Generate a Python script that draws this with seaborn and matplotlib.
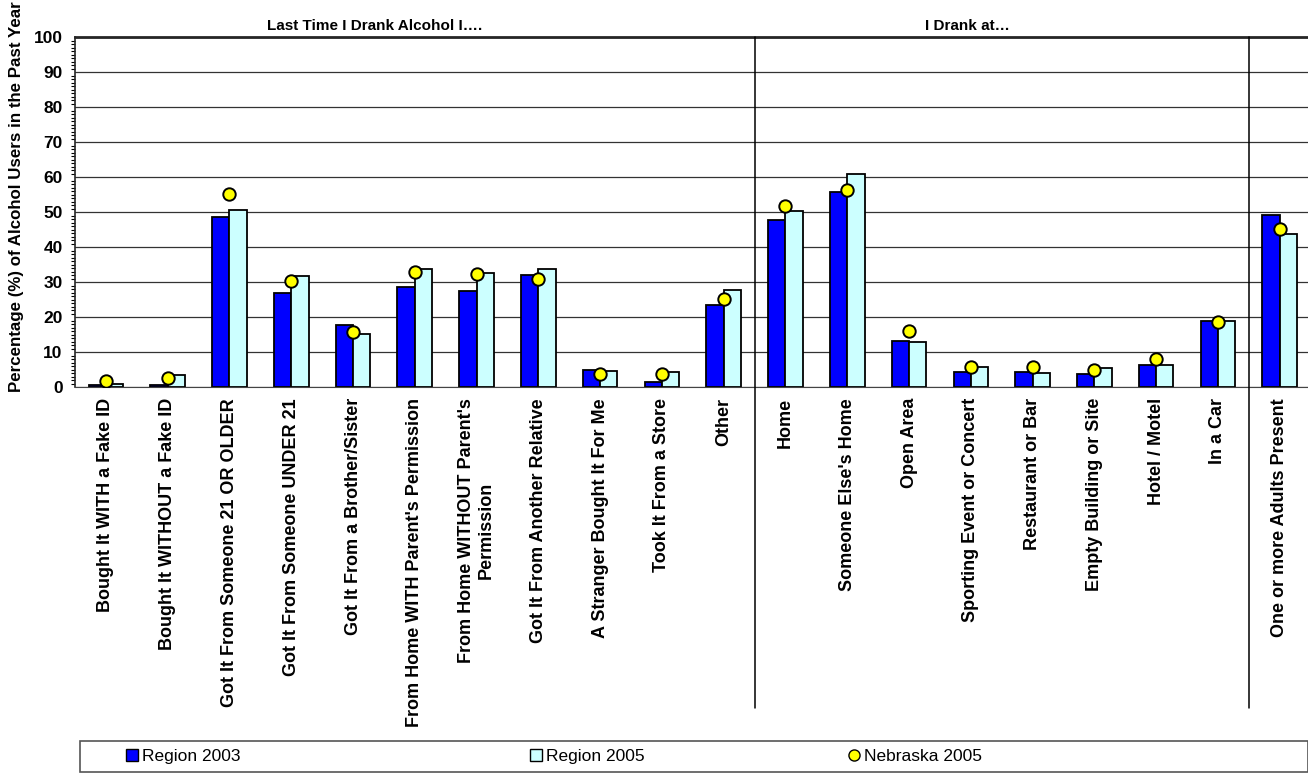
import numpy as np
import pandas as pd
import matplotlib
matplotlib.use("Agg")
import matplotlib.pyplot as plt
import matplotlib.transforms as mtransforms
from matplotlib.patches import Patch, Rectangle
from matplotlib.lines import Line2D
from matplotlib.ticker import MultipleLocator, FixedLocator
import seaborn as sns

categories = [
    "Bought It WITH a Fake ID",
    "Bought It WITHOUT a Fake ID",
    "Got It From Someone 21 OR OLDER",
    "Got It From Someone UNDER 21",
    "Got It From a Brother/Sister",
    "From Home WITH Parent's Permission",
    "From Home WITHOUT Parent's\nPermission",
    "Got It From Another Relative",
    "A Stranger Bought It For Me",
    "Took It From a Store",
    "Other",
    "Home",
    "Someone Else's Home",
    "Open Area",
    "Sporting Event or Concert",
    "Restaurant or Bar",
    "Empty Building or Site",
    "Hotel / Motel",
    "In a Car",
    "One or more Adults Present",
]
region_2003 = [0.5, 0.5, 48.5, 27.0, 17.8, 28.6, 27.5, 32.1, 5.0, 1.4, 23.4,
               47.8, 55.7, 13.2, 4.4, 4.3, 3.8, 6.3, 19.0, 49.2]
region_2005 = [0.8, 3.3, 50.6, 31.8, 15.2, 33.6, 32.7, 33.6, 4.7, 4.3, 27.8,
               50.2, 60.9, 13.0, 5.7, 3.9, 5.4, 6.2, 19.0, 43.7]
nebraska_2005 = [1.6, 2.7, 55.2, 30.3, 15.8, 32.8, 32.3, 30.8, 3.7, 3.7, 25.2,
                 51.6, 56.3, 16.1, 5.6, 5.8, 4.8, 8.1, 18.7, 45.2]
series_names = ["Region 2003", "Region 2005"]
section_titles = ["Last Time I Drank Alcohol I\u2026.", "I Drank at\u2026"]

sns.set_style("white")
plt.rcParams["font.family"] = ["Liberation Sans", "DejaVu Sans"]
plt.rcParams.update({"text.color": "black", "axes.labelcolor": "black",
                     "xtick.color": "black", "ytick.color": "black"})

df = pd.DataFrame({
    "category": categories * 2,
    "series": [series_names[0]] * len(categories) + [series_names[1]] * len(categories),
    "value": region_2003 + region_2005,
})

fig = plt.figure(figsize=(13.08, 7.8), dpi=100)
ax = fig.add_axes([75 / 1308, 1 - 387 / 780, 1 - 75 / 1308 + 0.002, (387 - 37) / 780])

palette = {"Region 2003": "#0000FF", "Region 2005": "#CCFFFF"}
sns.barplot(data=df, x="category", y="value", hue="series", palette=palette,
            order=categories, hue_order=series_names, width=0.56, gap=0,
            edgecolor="black", linewidth=1.3, saturation=1, errorbar=None,
            legend=False, ax=ax, zorder=2)

x = np.arange(len(categories))
sns.scatterplot(x=x, y=nebraska_2005, color="#FFFF00", edgecolor="black",
                linewidth=1.4, s=80, marker="o", legend=False, ax=ax, zorder=4)

ax.set_xlim(-0.5, len(categories) - 0.5)
ax.set_ylim(0, 100)
ax.yaxis.set_major_locator(MultipleLocator(10))
ax.yaxis.set_minor_locator(MultipleLocator(1))
ax.yaxis.grid(True, which="major", color="#333333", linewidth=0.9, zorder=0)
ax.set_axisbelow(True)

ax.set_xticks(x)
ax.set_xticklabels(categories, rotation=90, ha="center", va="top",
                   fontsize=13, fontweight="bold", multialignment="center")
ax.xaxis.set_minor_locator(FixedLocator(np.arange(-0.5, len(categories), 1)))
ax.tick_params(axis="x", which="major", length=0, pad=8)
ax.tick_params(axis="x", which="minor", length=5, width=0.8, color="#555555")
ax.tick_params(axis="y", which="major", length=6, width=1, labelsize=12.5, pad=3)
ax.tick_params(axis="y", which="minor", length=3, width=0.8, left=True)
for lab in ax.get_yticklabels():
    lab.set_fontweight("bold")

ax.set_xlabel("")
ax.set_ylabel("")
ax.spines["right"].set_visible(False)
ax.spines["top"].set_linewidth(2)
ax.spines["left"].set_linewidth(1.2)
ax.spines["bottom"].set_color("#444444")

# section separators and headers
trans = mtransforms.blended_transform_factory(ax.transData, ax.transAxes)
for xs in [10.5, 18.5]:
    ax.plot([xs, xs], [1.0, -0.917], transform=trans, color="black",
            linewidth=1.1, clip_on=False, zorder=5)
ax.text(4.35, 1.012, section_titles[0], transform=trans, ha="center", va="bottom",
        fontsize=11, fontweight="bold")
ax.text(13.95, 1.012, section_titles[1], transform=trans, ha="center", va="bottom",
        fontsize=11, fontweight="bold")

fig.text(17 / 1308, 1 - 197 / 780, "Percentage (%) of Alcohol Users in the Past Year",
         rotation=90, ha="center", va="center", fontsize=12.2, fontweight="bold")

# legend
fig.patches.append(Rectangle((80 / 1308, 1 - 772 / 780), 1 - 80 / 1308, 31 / 780,
                             transform=fig.transFigure, fill=False,
                             edgecolor="#555555", linewidth=1.2))
handles = [
    Patch(facecolor="#0000FF", edgecolor="black", linewidth=1),
    Patch(facecolor="#CCFFFF", edgecolor="black", linewidth=1),
    Line2D([], [], marker="o", color="none", markerfacecolor="#FFFF00",
           markeredgecolor="black", markersize=8),
]
legend_labels = ["Region 2003", "Region 2005", "Nebraska 2005"]
legend_left = [126, 530, 848]
for h, lbl, lx in zip(handles, legend_labels, legend_left):
    fig.legend([h], [lbl], loc="center left",
               bbox_to_anchor=(lx / 1308, 1 - 756.5 / 780), frameon=False,
               fontsize=12.5, handlelength=0.7, handleheight=0.7,
               handletextpad=0.2, borderaxespad=0, borderpad=0)

fig.savefig("out.png", dpi=100)
